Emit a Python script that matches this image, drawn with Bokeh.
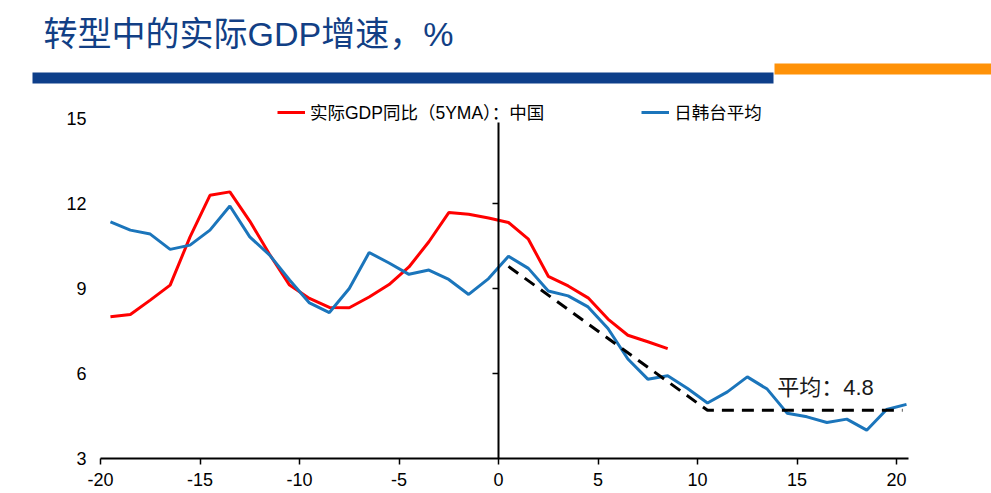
from bokeh.plotting import figure
from bokeh.models import (Range1d, FixedTicker, LinearAxis, Legend, LegendItem,
                          Label, CustomJSTickFormatter)
from bokeh.layouts import column
from bokeh.embed import file_html
from bokeh.resources import INLINE

# ---------------- data ----------------
title_text = "转型中的实际GDP增速，%"
china_label = "实际GDP同比（5YMA）：中国"
peers_label = "日韩台平均"
avg_label = "平均：4.8"

x_china = [-19.5, -18.5, -17.5, -16.5, -15.5, -14.5, -13.5, -12.5, -11.5, -10.5,
           -9.5, -8.5, -7.5, -6.5, -5.5, -4.5, -3.5, -2.5, -1.5, -0.5,
           0.5, 1.5, 2.5, 3.5, 4.5, 5.5, 6.5, 7.5, 8.5]
y_china = [8.00, 8.08, 8.59, 9.12, 10.82, 12.29, 12.41, 11.38, 10.20, 9.12,
           8.65, 8.33, 8.32, 8.70, 9.14, 9.76, 10.65, 11.68, 11.62, 11.49,
           11.33, 10.74, 9.43, 9.09, 8.67, 7.92, 7.35, 7.12, 6.88]

x_peers = [-19.5, -18.5, -17.5, -16.5, -15.5, -14.5, -13.5, -12.5, -11.5, -10.5,
           -9.5, -8.5, -7.5, -6.5, -5.5, -4.5, -3.5, -2.5, -1.5, -0.5,
           0.5, 1.5, 2.5, 3.5, 4.5, 5.5, 6.5, 7.5, 8.5, 9.5,
           10.5, 11.5, 12.5, 13.5, 14.5, 15.5, 16.5, 17.5, 18.5, 19.5, 20.5]
y_peers = [11.35, 11.06, 10.92, 10.38, 10.53, 11.06, 11.91, 10.82, 10.18, 9.30,
           8.49, 8.15, 9.00, 10.27, 9.90, 9.50, 9.65, 9.32, 8.79, 9.35,
           10.14, 9.71, 8.91, 8.74, 8.35, 7.59, 6.51, 5.80, 5.92, 5.47,
           4.96, 5.35, 5.88, 5.45, 4.60, 4.47, 4.27, 4.39, 4.00, 4.73, 4.91]

x_trend = [0.5, 10.5, 20.3]
y_trend = [9.78, 4.70, 4.70]

x_ticks = [-20, -15, -10, -5, 0, 5, 10, 15, 20]
y_ticks = [3, 6, 9, 12, 15]
zero_axis_ticks = [6, 9, 12]

# ---------------- styles ----------------
FONT = "Liberation Sans, Noto Sans CJK SC"
W = 991
HEADER_H = 95
CHART_H = 398
RED = "#FF0000"
BLUE = "#1B75BB"

# ---------------- header ----------------
header = figure(width=W, height=HEADER_H, x_range=Range1d(0, W), y_range=Range1d(0, HEADER_H),
                output_backend="svg", toolbar_location=None, min_border=0,
                x_axis_location=None, y_axis_location=None)
try:
    header.frame_align = False
except AttributeError:
    pass
header.grid.visible = False
header.outline_line_color = None
header.quad(left=[32], right=[773], bottom=[12], top=[23], fill_color="#0E3F8A", line_color=None)
header.quad(left=[774], right=[991], bottom=[21], top=[32], fill_color="#FF9208", line_color=None)
header.add_layout(Label(x=43, y=61.5, text=title_text, text_baseline="middle", text_align="left",
                        text_font=FONT, text_font_size="34px", text_color="#123F85"))

# ---------------- chart ----------------
# frame: 340 px for 3..15, plus 18 px of head room for the legend (15 -> 15.635)
p = figure(width=W, height=CHART_H, x_range=Range1d(-20, 20.6), y_range=Range1d(3, 15.635),
           output_backend="svg", toolbar_location=None,
           min_border_left=100, min_border_right=83, min_border_top=5, min_border_bottom=35)
try:
    p.frame_align = False
except AttributeError:
    pass
p.grid.visible = False
p.outline_line_color = None

xa = p.xaxis[0]
xa.ticker = FixedTicker(ticks=x_ticks)
xa.formatter = CustomJSTickFormatter(code="return String(tick)")
xa.axis_line_width = 2
xa.axis_line_color = "black"
xa.major_tick_out = 6
xa.major_tick_in = 0
xa.major_tick_line_width = 1.5
xa.minor_tick_line_color = None
xa.major_label_standoff = 8
xa.major_label_text_font = FONT
xa.major_label_text_font_size = "18px"
xa.major_label_text_color = "black"

ya = p.yaxis[0]
ya.ticker = FixedTicker(ticks=y_ticks)
ya.formatter = CustomJSTickFormatter(code="return String(tick)")
ya.axis_line_color = None
ya.major_tick_line_color = None
ya.minor_tick_line_color = None
ya.major_tick_out = 0
ya.major_tick_in = 0
ya.major_label_standoff = 14
ya.major_label_text_font = FONT
ya.major_label_text_font_size = "18px"
ya.major_label_text_color = "black"

zaxis = LinearAxis(fixed_location=0, ticker=FixedTicker(ticks=zero_axis_ticks),
                   formatter=CustomJSTickFormatter(code="return ''"),
                   bounds=(3, 14.85),
                   axis_line_width=2, axis_line_color="black",
                   major_tick_out=6, major_tick_in=0, major_tick_line_width=1.5,
                   minor_tick_line_color=None)
p.add_layout(zaxis, "left")

r_cn = p.line(x_china, y_china, line_color=RED, line_width=3)
r_pe = p.line(x_peers, y_peers, line_color=BLUE, line_width=3)
r_tr = p.line(x_trend, y_trend, line_color="black", line_width=3, line_dash="12 8")

legend = Legend(items=[LegendItem(label=china_label, renderers=[r_cn]),
                       LegendItem(label=peers_label, renderers=[r_pe])],
                orientation="horizontal", location=(177, 334),
                glyph_width=28, glyph_height=20, label_standoff=5, spacing=97,
                padding=0, margin=0, border_line_color=None, background_fill_alpha=0,
                label_text_font=FONT, label_text_font_size="17.5px", label_text_color="black")
p.add_layout(legend)

p.add_layout(Label(x=14.0, y=5.52, text=avg_label, text_baseline="middle", text_align="left",
                   text_font=FONT, text_font_size="22px", text_color="#1a1a1a"))

layout = column(header, p)
open("out.html", "w").write(file_html(layout, INLINE))
